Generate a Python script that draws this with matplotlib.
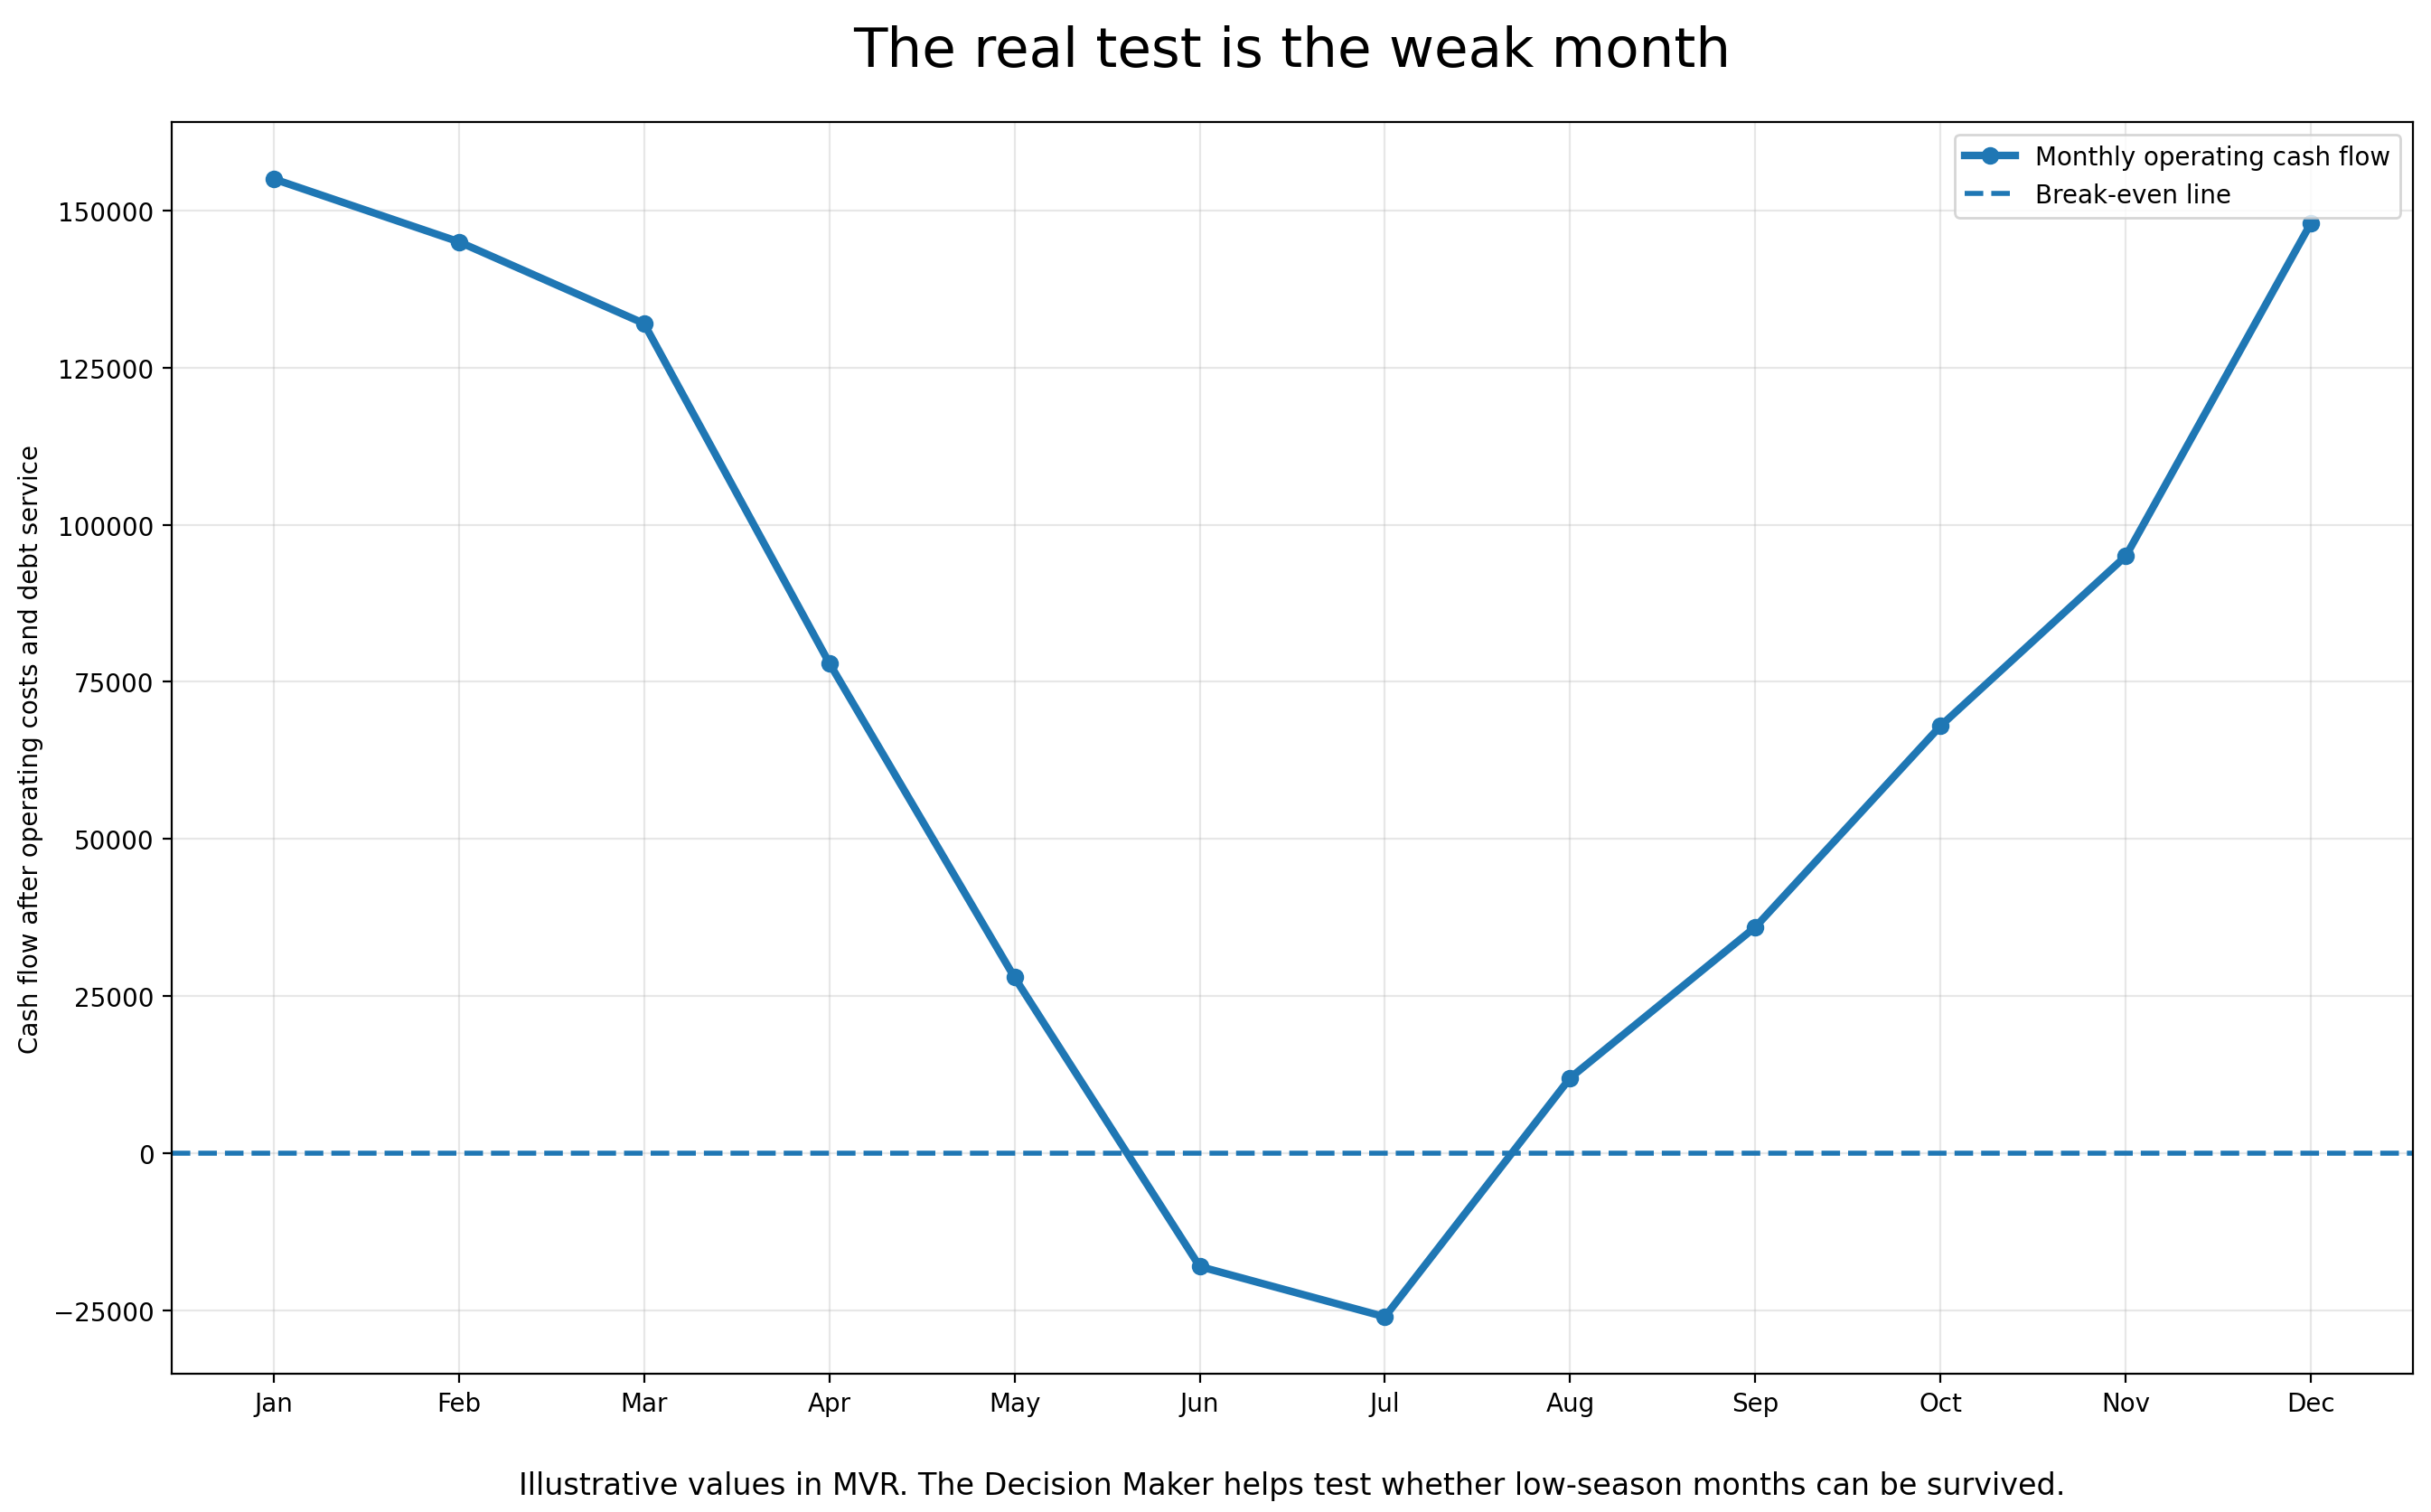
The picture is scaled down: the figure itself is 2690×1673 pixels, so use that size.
import matplotlib
matplotlib.use("Agg")
import matplotlib.pyplot as plt

months = ["Jan", "Feb", "Mar", "Apr", "May", "Jun", "Jul", "Aug", "Sep", "Oct", "Nov", "Dec"]
cash_flow = [155000, 145000, 132000, 78000, 28000, -18000, -26000, 12000, 36000, 68000, 95000, 148000]
break_even = 0

fig = plt.figure(figsize=(13.45, 8.37), dpi=200)
ax = fig.add_axes([190 / 2690, 153 / 1674, 2480 / 2690, 1385 / 1674])

ax.plot(months, cash_flow, marker="o", linewidth=3, markersize=6, color="#1f77b4",
        label="Monthly operating cash flow")
ax.axhline(break_even, linestyle="--", linewidth=2, color="#1f77b4", label="Break-even line")

ax.set_ylabel("Cash flow after operating costs and debt service")
ax.grid(True, alpha=0.3)
ax.legend(loc="upper right")

# title and caption centred over the axes
cx = (190 + 2480 / 2) / 2690
fig.text(cx, 0.983, "The real test is the weak month", ha="center", va="top", fontsize=22)
fig.text(cx, 0.012, "Illustrative values in MVR. The Decision Maker helps test whether low-season months can be survived.",
         ha="center", fontsize=12)

fig.savefig("out.png", dpi=200)
